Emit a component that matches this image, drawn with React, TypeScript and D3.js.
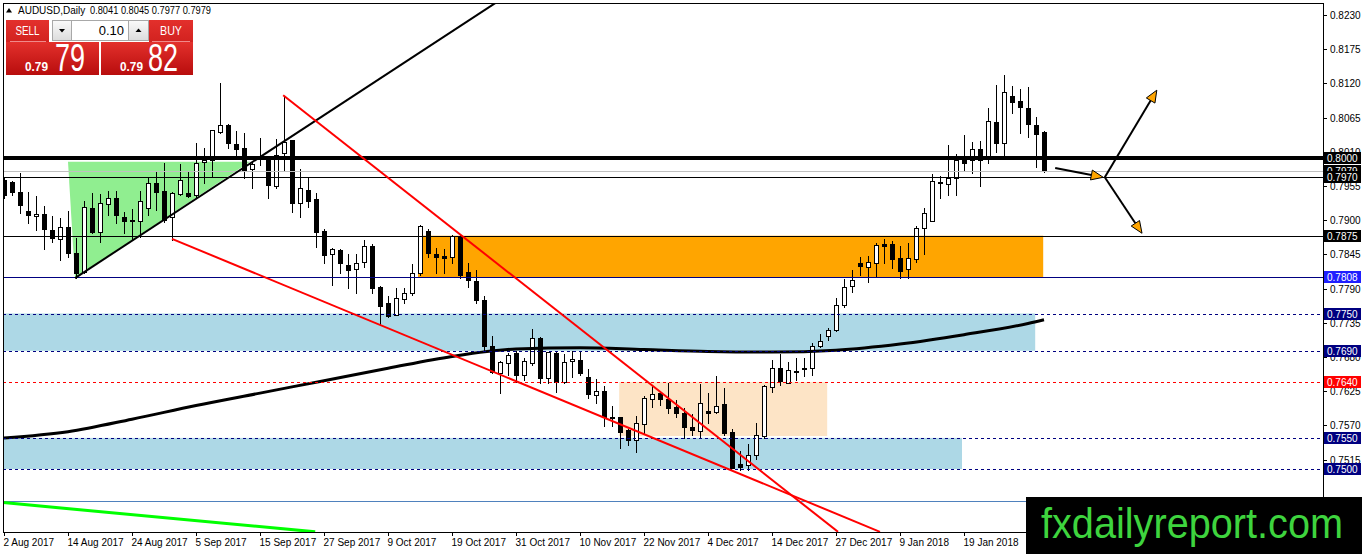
import React, { useEffect, useRef } from 'react';
import * as d3 from 'd3';

const W = 1362;
const H = 554;

// AUDUSD daily candles, 2 Aug 2017 .. 2 Feb 2018 (one bar per trading day)
const opens = [
  0.7965, 0.7961, 0.7945, 0.7915, 0.7907, 0.7910, 0.7884, 0.7870, 0.7889, 0.7847,
  0.7817, 0.7920, 0.7881, 0.7926, 0.7936, 0.7905, 0.7899, 0.7899, 0.7920, 0.7960,
  0.7947, 0.7905, 0.7942, 0.7944, 0.7941, 0.7994, 0.7997, 0.8042, 0.8053, 0.8023,
  0.8016, 0.7982, 0.8000, 0.8000, 0.7955, 0.8008, 0.8029, 0.7928, 0.7949, 0.7934,
  0.7883, 0.7846, 0.7852, 0.7828, 0.7821, 0.7833, 0.7858, 0.7793, 0.7767, 0.7748,
  0.7773, 0.7783, 0.7815, 0.7883, 0.7846, 0.7842, 0.7841, 0.7875, 0.7817, 0.7802,
  0.7772, 0.7698, 0.7654, 0.7670, 0.7686, 0.7651, 0.7670, 0.7711, 0.7646, 0.7686,
  0.7640, 0.7674, 0.7675, 0.7648, 0.7619, 0.7625, 0.7584, 0.7584, 0.7563, 0.7547,
  0.7572, 0.7612, 0.7622, 0.7612, 0.7600, 0.7590, 0.7567, 0.7561, 0.7593, 0.7592,
  0.7604, 0.7559, 0.7508, 0.7506, 0.7522, 0.7553, 0.7632, 0.7662, 0.7638, 0.7657,
  0.7662, 0.7662, 0.7698, 0.7714, 0.7723, 0.7764, 0.7794, 0.7831, 0.7825, 0.7831,
  0.7862, 0.7862, 0.7839, 0.7821, 0.7838, 0.7887, 0.7899, 0.7961, 0.7958, 0.7968,
  0.7997, 0.7997, 0.8015, 0.7998, 0.8058, 0.8024, 0.8100, 0.8092, 0.8080, 0.8053,
  0.8041,
];
const highs = [
  0.7971, 0.7965, 0.7978, 0.7947, 0.7941, 0.7924, 0.7908, 0.7905, 0.7916, 0.7873,
  0.7932, 0.7945, 0.7944, 0.7949, 0.7949, 0.7915, 0.7920, 0.7949, 0.7969, 0.7981,
  0.7994, 0.7947, 0.7992, 0.7981, 0.8026, 0.8018, 0.8047, 0.8122, 0.8056, 0.8045,
  0.8042, 0.7997, 0.8034, 0.8005, 0.8032, 0.8101, 0.8029, 0.7984, 0.7969, 0.7945,
  0.7887, 0.7857, 0.7855, 0.7847, 0.7847, 0.7870, 0.7863, 0.7796, 0.7780, 0.7793,
  0.7793, 0.7831, 0.7894, 0.7887, 0.7857, 0.7855, 0.7878, 0.7879, 0.7833, 0.7821,
  0.7780, 0.7715, 0.7675, 0.7688, 0.7691, 0.7680, 0.7727, 0.7714, 0.7690, 0.7691,
  0.7686, 0.7691, 0.7691, 0.7662, 0.7646, 0.7635, 0.7603, 0.7584, 0.7566, 0.7587,
  0.7619, 0.7635, 0.7627, 0.7640, 0.7612, 0.7600, 0.7590, 0.7638, 0.7624, 0.7651,
  0.7632, 0.7566, 0.7530, 0.7542, 0.7576, 0.7636, 0.7677, 0.7686, 0.7674, 0.7680,
  0.7680, 0.7704, 0.7719, 0.7728, 0.7777, 0.7807, 0.7821, 0.7842, 0.7844, 0.7865,
  0.7871, 0.7868, 0.7860, 0.7865, 0.7892, 0.7921, 0.7976, 0.7973, 0.8023, 0.8008,
  0.8039, 0.8027, 0.8029, 0.8082, 0.8119, 0.8135, 0.8117, 0.8113, 0.8116, 0.8068,
  0.8045,
];
const lows = [
  0.7936, 0.7941, 0.7912, 0.7895, 0.7884, 0.7854, 0.7865, 0.7836, 0.7841, 0.7807,
  0.7815, 0.7879, 0.7865, 0.7908, 0.7895, 0.7879, 0.7868, 0.7873, 0.7908, 0.7916,
  0.7897, 0.7868, 0.7941, 0.7937, 0.7937, 0.7960, 0.7971, 0.8040, 0.8016, 0.8000,
  0.7968, 0.7952, 0.7989, 0.7936, 0.7952, 0.7981, 0.7913, 0.7905, 0.7921, 0.7857,
  0.7831, 0.7796, 0.7815, 0.7791, 0.7783, 0.7825, 0.7783, 0.7731, 0.7744, 0.7748,
  0.7767, 0.7780, 0.7812, 0.7841, 0.7815, 0.7815, 0.7831, 0.7807, 0.7793, 0.7767,
  0.7688, 0.7654, 0.7622, 0.7651, 0.7640, 0.7643, 0.7667, 0.7638, 0.7638, 0.7624,
  0.7638, 0.7648, 0.7651, 0.7614, 0.7606, 0.7569, 0.7569, 0.7534, 0.7539, 0.7527,
  0.7558, 0.7600, 0.7603, 0.7590, 0.7584, 0.7550, 0.7555, 0.7550, 0.7574, 0.7590,
  0.7555, 0.7502, 0.7498, 0.7498, 0.7516, 0.7550, 0.7624, 0.7635, 0.7638, 0.7643,
  0.7649, 0.7651, 0.7696, 0.7707, 0.7722, 0.7760, 0.7785, 0.7812, 0.7801, 0.7810,
  0.7831, 0.7823, 0.7807, 0.7807, 0.7833, 0.7846, 0.7899, 0.7936, 0.7941, 0.7941,
  0.7981, 0.7976, 0.7955, 0.7992, 0.8010, 0.8005, 0.8072, 0.8040, 0.8034, 0.7986,
  0.7977,
];
const closes = [
  0.7941, 0.7945, 0.7924, 0.7908, 0.7910, 0.7886, 0.7871, 0.7889, 0.7847, 0.7815,
  0.7921, 0.7881, 0.7928, 0.7936, 0.7908, 0.7899, 0.7900, 0.7931, 0.7960, 0.7945,
  0.7900, 0.7944, 0.7965, 0.7939, 0.7992, 0.7997, 0.8045, 0.8053, 0.8024, 0.8015,
  0.7981, 0.7990, 0.8001, 0.7957, 0.8005, 0.8026, 0.7928, 0.7952, 0.7931, 0.7881,
  0.7844, 0.7854, 0.7831, 0.7820, 0.7831, 0.7858, 0.7791, 0.7762, 0.7746, 0.7775,
  0.7783, 0.7815, 0.7891, 0.7847, 0.7841, 0.7839, 0.7875, 0.7812, 0.7804, 0.7772,
  0.7698, 0.7656, 0.7672, 0.7683, 0.7651, 0.7674, 0.7711, 0.7646, 0.7688, 0.7640,
  0.7672, 0.7677, 0.7654, 0.7620, 0.7625, 0.7584, 0.7583, 0.7559, 0.7547, 0.7574,
  0.7614, 0.7620, 0.7612, 0.7598, 0.7590, 0.7567, 0.7563, 0.7606, 0.7590, 0.7601,
  0.7558, 0.7502, 0.7503, 0.7522, 0.7555, 0.7633, 0.7662, 0.7641, 0.7659, 0.7658,
  0.7661, 0.7698, 0.7706, 0.7723, 0.7764, 0.7793, 0.7804, 0.7826, 0.7833, 0.7860,
  0.7858, 0.7838, 0.7818, 0.7839, 0.7887, 0.7912, 0.7963, 0.7960, 0.7968, 0.7997,
  0.7992, 0.8015, 0.7997, 0.8060, 0.8024, 0.8106, 0.8090, 0.8082, 0.8055, 0.8039,
  0.7979,
];

// time axis label every 8 bars (the later ones sit under the watermark)
const dateLabels = [
  '2 Aug 2017', '14 Aug 2017', '24 Aug 2017', '5 Sep 2017', '15 Sep 2017',
  '27 Sep 2017', '9 Oct 2017', '19 Oct 2017', '31 Oct 2017', '10 Nov 2017',
  '22 Nov 2017', '4 Dec 2017', '14 Dec 2017', '27 Dec 2017', '9 Jan 2018',
  '19 Jan 2018',
];
const priceTicks = [
  0.8230, 0.8175, 0.8120, 0.8065, 0.8010, 0.7955, 0.7900, 0.7845,
  0.7790, 0.7735, 0.7680, 0.7625, 0.7570, 0.7515,
];

// horizontal levels drawn on the chart
const levelPrices = [0.8000, 0.7979, 0.7970, 0.7875, 0.7808, 0.7750, 0.7690, 0.7640, 0.7550, 0.7500];
const baseLinePrice = 0.7449;

// moving average (bar index -> value)
const maBars = [0, 8, 16, 24, 32, 40, 48, 56, 64, 72, 80, 88, 96, 104, 112, 120, 128, 130];
const maValues = [
  0.7550, 0.7560, 0.7580, 0.7602, 0.7622, 0.7642, 0.7662, 0.7681, 0.7693,
  0.7695, 0.7692, 0.7689, 0.7688, 0.7691, 0.7701, 0.7716, 0.7734, 0.7740,
];

// rectangles: [fromBar, toBar, upper, lower]
const blueZone1 = [-1, 128.9, 0.7750, 0.7690];
const blueZone2 = [-1, 119.75, 0.7550, 0.7500];
const orangeZone = [51.75, 129.9, 0.7875, 0.7808];
const peachZone = [76.9, 102.9, 0.7640, 0.7553];
const greenTriangle = [[8, 0.7994], [8.875, 0.7807], [30.75, 0.7994]];

// trend lines: [bar1, price1, bar2, price2]
const blackTrend = [8.875, 0.7807, 61.4, 0.8249];
const redTrendLow = [21, 0.7870, 109.5, 0.7399];
const redTrendHigh = [34.9, 0.8101, 104.25, 0.7399];
const greenTrend = [-0.1, 0.7446, 38.9, 0.7399];

// projection arrows: [bar1, price1, bar2, price2]
const arrows = [
  [131.4, 0.7984, 137.4, 0.7969],
  [137.6, 0.7969, 144.1, 0.8109],
  [137.6, 0.7969, 142.25, 0.7879],
];

const FONT = '"Liberation Sans", Arial, sans-serif';

function App() {
  const ref = useRef<SVGSVGElement>(null);

  useEffect(() => {
    if (!ref.current) return;
    const svg = d3.select(ref.current);
    svg.selectAll('*').remove();

    const L = 3, R = 1323, T = 3, B = 532;
    const x = d3.scaleLinear().domain([0, 130]).range([4, 1044]);
    const y = d3.scaleLinear().domain([0.75, 0.8]).range([469, 158]);
    const cx = (i: number) => Math.round(x(i)) + 0.5;
    const cy = (p: number) => Math.round(y(p)) + 0.5;

    const defs = svg.append('defs');
    defs.append('clipPath').attr('id', 'plot')
      .append('rect').attr('x', L).attr('y', T).attr('width', R - L).attr('height', B - T);
    const red = defs.append('linearGradient').attr('id', 'redGrad').attr('x1', 0).attr('y1', 0).attr('x2', 0).attr('y2', 1);
    red.append('stop').attr('offset', '0%').attr('stop-color', '#e3302c');
    red.append('stop').attr('offset', '100%').attr('stop-color', '#b80d0d');
    const gray = defs.append('linearGradient').attr('id', 'grayGrad').attr('x1', 0).attr('y1', 0).attr('x2', 0).attr('y2', 1);
    gray.append('stop').attr('offset', '0%').attr('stop-color', '#fafafa');
    gray.append('stop').attr('offset', '100%').attr('stop-color', '#dcdcdc');

    svg.append('rect').attr('width', W).attr('height', H).attr('fill', '#fff');

    const plot = svg.append('g').attr('clip-path', 'url(#plot)');

    // zones in background
    const zoneFill: [number[], string][] = [
      [blueZone1, '#add8e6'], [blueZone2, '#add8e6'], [orangeZone, '#ffa500'], [peachZone, '#fde4c6'],
    ];
    zoneFill.forEach(([z, c]) => {
      plot.append('rect')
        .attr('x', x(z[0])).attr('y', y(z[2]))
        .attr('width', x(z[1]) - x(z[0])).attr('height', y(z[3]) - y(z[2]))
        .attr('fill', c);
    });
    plot.append('path')
      .attr('d', d3.line()(greenTriangle.map(d => [x(d[0]), y(d[1])] as [number, number])) + 'Z')
      .attr('fill', '#90ee90');

    // candles
    const bars = opens.map((o, i) => ({ i, o, h: highs[i], l: lows[i], c: closes[i] }));
    const cg = plot.append('g').attr('shape-rendering', 'crispEdges');
    cg.selectAll('line.wick').data(bars).join('line')
      .attr('x1', d => cx(d.i)).attr('x2', d => cx(d.i))
      .attr('y1', d => cy(d.h)).attr('y2', d => cy(d.l))
      .attr('stroke', '#000');
    cg.selectAll('rect.body').data(bars).join('rect')
      .attr('x', d => cx(d.i) - 2)
      .attr('y', d => cy(Math.max(d.o, d.c)))
      .attr('width', 4)
      .attr('height', d => Math.max(1, cy(Math.min(d.o, d.c)) - cy(Math.max(d.o, d.c))))
      .attr('fill', d => (d.c >= d.o ? '#fff' : '#000'))
      .attr('stroke', '#000');

    // moving average
    plot.append('path')
      .attr('d', d3.line<number>().x((d, i) => x(maBars[i])).y(d => y(d)).curve(d3.curveMonotoneX)(maValues))
      .attr('fill', 'none').attr('stroke', '#000').attr('stroke-width', 3);

    // horizontal levels
    const levelStyle = [
      { stroke: '#000', w: 4, dash: null, bg: '#000' },
      { stroke: '#c0c0c0', w: 1, dash: null, bg: '#000' },
      { stroke: '#000', w: 1, dash: null, bg: '#000' },
      { stroke: '#000', w: 1, dash: null, bg: '#000' },
      { stroke: '#000080', w: 1, dash: null, bg: '#1f1fff' },
      { stroke: '#000080', w: 1, dash: '3,3', bg: '#000080' },
      { stroke: '#000080', w: 1, dash: '3,3', bg: '#000080' },
      { stroke: '#ff0000', w: 1, dash: '3,3', bg: '#ff0000' },
      { stroke: '#000080', w: 1, dash: '3,3', bg: '#000080' },
      { stroke: '#000080', w: 1, dash: '3,3', bg: '#000080' },
    ];
    const lg = plot.append('g').attr('shape-rendering', 'crispEdges');
    levelPrices.forEach((p, k) => {
      const s = levelStyle[k];
      const yy = s.w > 1 ? Math.round(y(p)) : cy(p);
      lg.append('line')
        .attr('x1', L).attr('x2', R).attr('y1', yy).attr('y2', yy)
        .attr('stroke', s.stroke).attr('stroke-width', s.w)
        .attr('stroke-dasharray', s.dash);
    });
    lg.append('line')
      .attr('x1', L).attr('x2', R).attr('y1', cy(baseLinePrice)).attr('y2', cy(baseLinePrice))
      .attr('stroke', '#4f81bd');

    // trend lines
    const trendStyle: [number[], string, number][] = [
      [blackTrend, '#000', 2], [redTrendLow, '#ff0000', 2], [redTrendHigh, '#ff0000', 2], [greenTrend, '#00ff00', 3],
    ];
    trendStyle.forEach(([t, c, w]) => {
      plot.append('line')
        .attr('x1', x(t[0])).attr('y1', y(t[1])).attr('x2', x(t[2])).attr('y2', y(t[3]))
        .attr('stroke', c).attr('stroke-width', w);
    });

    // arrows
    arrows.forEach(a => {
      const x1 = x(a[0]), y1 = y(a[1]), x2 = x(a[2]), y2 = y(a[3]);
      const ang = Math.atan2(y2 - y1, x2 - x1);
      const len = 12, hw = 5;
      const bx = x2 - len * Math.cos(ang), by = y2 - len * Math.sin(ang);
      plot.append('line').attr('x1', x1).attr('y1', y1).attr('x2', bx).attr('y2', by)
        .attr('stroke', '#000').attr('stroke-width', 2);
      const pts: [number, number][] = [
        [x2, y2],
        [bx + hw * Math.sin(ang), by - hw * Math.cos(ang)],
        [bx - hw * Math.sin(ang), by + hw * Math.cos(ang)],
      ];
      plot.append('path').attr('d', d3.line()(pts) + 'Z')
        .attr('fill', '#ffa500').attr('stroke', '#000').attr('stroke-width', 1);
    });

    // frame and axes
    const ax = svg.append('g').attr('shape-rendering', 'crispEdges');
    ax.append('rect').attr('x', L + 0.5).attr('y', T + 0.5).attr('width', R - L).attr('height', B - T)
      .attr('fill', 'none').attr('stroke', '#000');
    dateLabels.forEach((lab, k) => {
      const px = cx(k * 8);
      ax.append('line').attr('x1', px).attr('x2', px).attr('y1', B).attr('y2', B + 4).attr('stroke', '#000');
      svg.append('text').attr('x', px - 1).attr('y', 546).text(lab)
        .attr('font-family', FONT).attr('font-size', 10).attr('fill', '#000');
    });
    priceTicks.forEach(p => {
      ax.append('line').attr('x1', R).attr('x2', R + 4).attr('y1', cy(p)).attr('y2', cy(p)).attr('stroke', '#000');
      svg.append('text').attr('x', 1330).attr('y', y(p) + 4).text(p.toFixed(4))
        .attr('font-family', FONT).attr('font-size', 10).attr('fill', '#000');
    });
    levelPrices.forEach((p, k) => {
      const yy = Math.round(y(p));
      svg.append('rect').attr('x', R + 1).attr('y', yy - 6).attr('width', 37).attr('height', 12)
        .attr('fill', levelStyle[k].bg);
      svg.append('text').attr('x', R + 4).attr('y', yy + 4).text(p.toFixed(4))
        .attr('font-family', FONT).attr('font-size', 10).attr('fill', '#fff');
    });

    // header
    svg.append('path').attr('d', 'M6,12.5L12,12.5L9,8Z').attr('fill', '#000');
    svg.append('text').attr('x', 18).attr('y', 14).text('AUDUSD,Daily')
      .attr('font-family', FONT).attr('font-size', 10).attr('fill', '#000');
    svg.append('text').attr('x', 90).attr('y', 14).text('0.8041 0.8045 0.7977 0.7979')
      .attr('font-family', FONT).attr('font-size', 10).attr('fill', '#000')
      .attr('textLength', 121).attr('lengthAdjust', 'spacingAndGlyphs');

    // one-click trading panel
    const tp = svg.append('g').attr('font-family', FONT);
    tp.append('rect').attr('x', 6).attr('y', 20).attr('width', 43).attr('height', 55).attr('fill', 'url(#redGrad)');
    tp.append('rect').attr('x', 149).attr('y', 20).attr('width', 44).attr('height', 55).attr('fill', 'url(#redGrad)');
    tp.append('rect').attr('x', 6).attr('y', 42).attr('width', 93).attr('height', 33).attr('fill', 'url(#redGrad)');
    tp.append('rect').attr('x', 101).attr('y', 42).attr('width', 92).attr('height', 33).attr('fill', 'url(#redGrad)');
    tp.append('line').attr('x1', 10).attr('x2', 46).attr('y1', 41.5).attr('y2', 41.5).attr('stroke', '#f08a8a');
    tp.append('line').attr('x1', 152).attr('x2', 190).attr('y1', 41.5).attr('y2', 41.5).attr('stroke', '#f08a8a');
    tp.append('rect').attr('x', 52.5).attr('y', 20.5).attr('width', 96).attr('height', 20)
      .attr('fill', '#fff').attr('stroke', '#a8a8a8');
    tp.append('rect').attr('x', 52.5).attr('y', 20.5).attr('width', 19).attr('height', 20)
      .attr('fill', 'url(#grayGrad)').attr('stroke', '#a8a8a8');
    tp.append('rect').attr('x', 128.5).attr('y', 20.5).attr('width', 20).attr('height', 20)
      .attr('fill', 'url(#grayGrad)').attr('stroke', '#a8a8a8');
    tp.append('path').attr('d', 'M59,29L65,29L62,32.5Z').attr('fill', '#000');
    tp.append('path').attr('d', 'M135.5,32L141.5,32L138.5,28.5Z').attr('fill', '#000');
    tp.append('text').attr('x', 124).attr('y', 35).attr('text-anchor', 'end').text('0.10')
      .attr('font-size', 13).attr('fill', '#000');
    tp.append('text').attr('x', 27.5).attr('y', 35).attr('text-anchor', 'middle').text('SELL')
      .attr('font-size', 12).attr('fill', '#fff').attr('textLength', 24).attr('lengthAdjust', 'spacingAndGlyphs');
    tp.append('text').attr('x', 171).attr('y', 35).attr('text-anchor', 'middle').text('BUY')
      .attr('font-size', 12).attr('fill', '#fff').attr('textLength', 22).attr('lengthAdjust', 'spacingAndGlyphs');
    [[25, 55, '79'], [120, 148, '82']].forEach(([sx, bx, big]) => {
      tp.append('text').attr('x', sx as number).attr('y', 71).text('0.79')
        .attr('font-size', 13).attr('font-weight', 'bold').attr('fill', '#fff')
        .attr('textLength', 23).attr('lengthAdjust', 'spacingAndGlyphs');
      tp.append('text').attr('x', bx as number).attr('y', 71).text(big as string)
        .attr('font-size', 38).attr('fill', '#fff')
        .attr('textLength', 30).attr('lengthAdjust', 'spacingAndGlyphs');
    });

    // watermark
    svg.append('rect').attr('x', 1026).attr('y', 497).attr('width', W - 1026).attr('height', H - 497).attr('fill', '#000');
    svg.append('text').attr('x', 1041).attr('y', 538).text('fxdailyreport.com')
      .attr('font-family', FONT).attr('font-size', 42).attr('fill', '#3ed43e')
      .attr('textLength', 302).attr('lengthAdjust', 'spacingAndGlyphs');
  }, []);

  return (
    <svg
      ref={ref}
      width={W}
      height={H}
      style={{ position: 'absolute', left: 0, top: 0, display: 'block' }}
    />
  );
}

export default App;
